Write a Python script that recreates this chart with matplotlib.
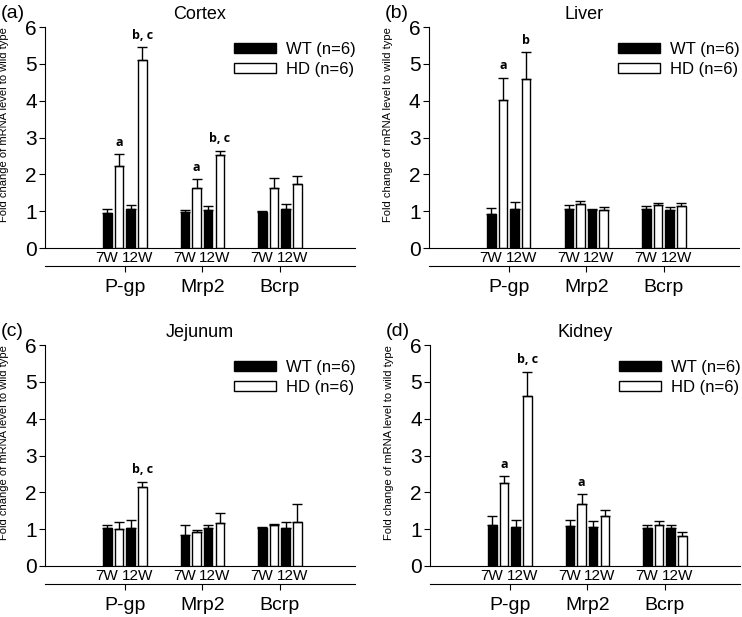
import matplotlib.pyplot as plt
import numpy as np

plt.rcParams['font.family'] = ['Liberation Sans', 'DejaVu Sans']

transporters = ["P-gp", "Mrp2", "Bcrp"]
ages = ["7W", "12W"]
tissues = ["Cortex", "Liver", "Jejunum", "Kidney"]
panel_tags = ["(a)", "(b)", "(c)", "(d)"]

# mean values per transporter: [WT 7W, HD 7W, WT 12W, HD 12W]
cortex_mean = [[0.96, 2.22, 1.06, 5.10], [0.98, 1.64, 1.04, 2.52], [0.97, 1.62, 1.06, 1.73]]
cortex_err = [[0.10, 0.33, 0.10, 0.35], [0.06, 0.23, 0.09, 0.12], [0.03, 0.28, 0.13, 0.23]]
liver_mean = [[0.92, 4.03, 1.06, 4.60], [1.06, 1.20, 1.02, 1.04], [1.05, 1.16, 1.03, 1.15]]
liver_err = [[0.16, 0.60, 0.20, 0.72], [0.12, 0.07, 0.05, 0.07], [0.08, 0.06, 0.08, 0.08]]
jejunum_mean = [[1.02, 1.00, 1.02, 2.14], [0.84, 0.93, 1.02, 1.16], [1.02, 1.10, 1.04, 1.19]]
jejunum_err = [[0.09, 0.20, 0.23, 0.15], [0.26, 0.05, 0.09, 0.27], [0.05, 0.03, 0.15, 0.49]]
kidney_mean = [[1.12, 2.26, 1.07, 4.63], [1.08, 1.69, 1.06, 1.37], [1.03, 1.10, 1.03, 0.81]]
kidney_err = [[0.23, 0.18, 0.17, 0.65], [0.18, 0.26, 0.16, 0.14], [0.09, 0.13, 0.09, 0.11]]

# significance letters: (transporter index, bar index, text)
cortex_sig = [(0, 1, "a"), (0, 3, "b, c"), (1, 1, "a"), (1, 3, "b, c")]
liver_sig = [(0, 1, "a"), (0, 3, "b")]
jejunum_sig = [(0, 3, "b, c")]
kidney_sig = [(0, 1, "a"), (0, 3, "b, c"), (1, 1, "a")]

means = [cortex_mean, liver_mean, jejunum_mean, kidney_mean]
errs = [cortex_err, liver_err, jejunum_err, kidney_err]
sigs = [cortex_sig, liver_sig, jejunum_sig, kidney_sig]

offsets = [-0.225, -0.075, 0.075, 0.225]
width = 0.11
fills = ["black", "white", "black", "white"]

fig = plt.figure(figsize=(7.42, 6.17), dpi=100)
positions = [
    [0.0606, 0.598, 0.418, 0.358],
    [0.578, 0.598, 0.418, 0.358],
    [0.0606, 0.0827, 0.418, 0.358],
    [0.5795, 0.0827, 0.418, 0.358],
]

for k in range(4):
    ax = fig.add_axes(positions[k])
    groups = np.arange(1, len(transporters) + 1)
    m = np.array(means[k])
    e = np.array(errs[k])
    handles = []
    for j in range(4):
        x = groups + offsets[j]
        b = ax.bar(x, m[:, j], width, color=fills[j], edgecolor="black", linewidth=1,
                   yerr=[np.zeros(len(groups)), e[:, j]], capsize=3.5,
                   error_kw=dict(ecolor="black", elinewidth=1, capthick=1))
        handles.append(b)
    for (g, j, txt) in sigs[k]:
        ax.annotate(txt, (groups[g] + offsets[j], m[g, j] + e[g, j]), xytext=(0, 4),
                    textcoords="offset points", ha="center", va="bottom",
                    fontsize=9, fontweight="bold", family=["Open Sans", "DejaVu Sans"])

    ax.set_xlim(-0.03, 3.97)
    ax.set_ylim(0, 6)
    ax.set_yticks(range(7))
    ax.tick_params(axis="y", labelsize=15, length=4, direction="out", pad=2)
    ax.set_ylabel("Fold change of mRNA level to wild type", fontsize=8)
    ax.yaxis.set_label_coords(-0.115, 0.56)
    ax.spines["top"].set_visible(False)
    ax.spines["right"].set_visible(False)

    age_pos = []
    age_lab = []
    for g in groups:
        age_pos += [g - 0.23, g + 0.16]
        age_lab += ages
    ax.set_xticks(age_pos)
    ax.set_xticklabels(age_lab, fontsize=11)
    ax.tick_params(axis="x", length=0, pad=2)

    sec = ax.secondary_xaxis(-0.083)
    sec.set_xticks(groups)
    sec.set_xticklabels(transporters, fontsize=14)
    sec.tick_params(axis="x", length=4, direction="out", pad=5)

    ax.set_title(tissues[k], fontsize=13, pad=6)
    ax.legend([handles[0], handles[1]], ["WT (n=6)", "HD (n=6)"], loc="upper right",
              bbox_to_anchor=(1.05, 1.0), frameon=False, fontsize=12,
              handlelength=2.5, handleheight=0.5, handletextpad=0.6, labelspacing=0.3)

    fig.text(positions[k][0] - 0.06, positions[k][1] + positions[k][3] + 0.022,
             panel_tags[k], fontsize=14, va="center", ha="left")

fig.savefig("out.png", dpi=100)
